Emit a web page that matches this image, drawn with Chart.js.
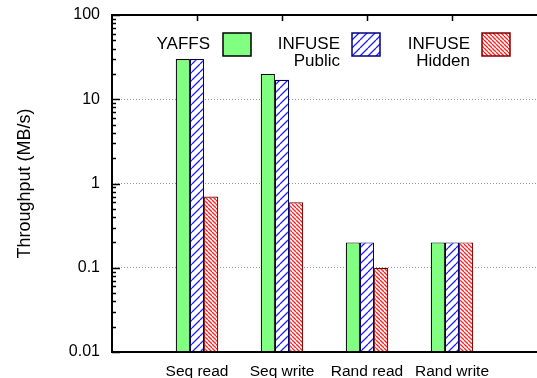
<!DOCTYPE html>
<html>
<head>
<meta charset="utf-8">
<script src="https://cdn.jsdelivr.net/npm/chart.js@4.4.0/dist/chart.umd.min.js"></script>
<style>
  html, body { margin: 0; padding: 0; background: #fff; overflow: hidden; }
  canvas { display: block; }
</style>
</head>
<body>
<canvas id="chart" width="537" height="378"></canvas>
<script>
var categories = ['', 'Seq read', 'Seq write', 'Rand read', 'Rand write', ''];
var yaffs = [null, 30, 20, 0.2, 0.2, null];
var infusePublic = [null, 30, 17, 0.2, 0.2, null];
var infuseHidden = [null, 0.7, 0.6, 0.1, 0.2, null];
var yTicks = [0.01, 0.1, 1, 10, 100];

var FONT = '"Liberation Sans", Arial, sans-serif';

function makeHatch(size, color, dir, width) {
    var c = document.createElement('canvas');
    c.width = size; c.height = size;
    var g = c.getContext('2d');
    g.fillStyle = '#fff';
    g.fillRect(0, 0, size, size);
    g.strokeStyle = color;
    g.lineWidth = width;
    g.beginPath();
    for (var k = -1; k <= 1; k++) {
        if (dir > 0) {
            g.moveTo(k * size, size);
            g.lineTo(k * size + size, 0);
        } else {
            g.moveTo(k * size, 0);
            g.lineTo(k * size + size, size);
        }
    }
    g.stroke();
    return g.createPattern(c, 'repeat');
}

var blueHatch = makeHatch(8, '#2020ff', 1, 1.3);
var redHatch = makeHatch(4, '#ff2020', -1, 1.3);

var legendItems = [
    { lines: ['YAFFS'], x: 210, box: 223, fill: 'rgb(128,255,128)', stroke: '#000' },
    { lines: ['INFUSE', 'Public'], x: 340, box: 352, fill: blueHatch, stroke: '#000080' },
    { lines: ['INFUSE', 'Hidden'], x: 470, box: 482, fill: redHatch, stroke: '#800000' }
];

var framePlugin = {
    id: 'frame',
    afterDatasetsDraw: function(chart) {
        var ctx = chart.ctx;
        var y = chart.scales.y;
        var x = chart.scales.x;
        var left = x.left, right = x.right, top = y.top, bottom = y.bottom;
        ctx.save();
        ctx.strokeStyle = '#000';
        ctx.lineWidth = 1.5;
        ctx.beginPath();
        // minor + major ticks on left axis
        for (var d = 0.01; d < 100; d *= 10) {
            for (var k = 1; k <= 10; k++) {
                var v = d * k;
                var py = Math.round(y.getPixelForValue(v)) + 0.5;
                var len = (k === 1 || k === 10) ? 8 : 4;
                ctx.moveTo(left, py);
                ctx.lineTo(left + len, py);
            }
        }
        // category ticks on top
        for (var i = 1; i < categories.length - 1; i++) {
            var px = Math.round(x.getPixelForValue(i)) + 0.5;
            ctx.moveTo(px, top);
            ctx.lineTo(px, top + 6);
        }
        ctx.stroke();
        ctx.lineWidth = 2;
        ctx.strokeRect(left, top, right - left + 2, bottom - top);
        ctx.restore();
    },
    afterDraw: function(chart) {
        var ctx = chart.ctx;
        ctx.save();
        ctx.font = '17px ' + FONT;
        ctx.fillStyle = '#000';
        ctx.textAlign = 'right';
        ctx.textBaseline = 'middle';
        legendItems.forEach(function(it) {
            it.lines.forEach(function(t, j) {
                ctx.fillText(t, it.x, 44 + j * 17);
            });
            ctx.fillStyle = it.fill;
            ctx.fillRect(it.box, 33, 28, 23);
            ctx.strokeStyle = it.stroke;
            ctx.lineWidth = 1.5;
            ctx.strokeRect(it.box, 33, 28, 23);
            ctx.fillStyle = '#000';
        });
        ctx.restore();
    }
};

var chart = new Chart(document.getElementById('chart'), {
    type: 'bar',
    data: {
        labels: categories,
        datasets: [{
            label: 'YAFFS',
            data: yaffs,
            backgroundColor: 'rgb(128,255,128)',
            borderColor: '#000',
            borderWidth: 1.2
        }, {
            label: 'INFUSE Public',
            data: infusePublic,
            backgroundColor: blueHatch,
            borderColor: '#000060',
            borderWidth: 1.2
        }, {
            label: 'INFUSE Hidden',
            data: infuseHidden,
            backgroundColor: redHatch,
            borderColor: '#700000',
            borderWidth: 1.2
        }]
    },
    options: {
        responsive: false,
        animation: false,
        layout: { autoPadding: false, padding: { top: 15, right: 0, left: 0, bottom: 0 } },
        plugins: {
            legend: { display: false },
            tooltip: { enabled: false }
        },
        datasets: {
            bar: { barPercentage: 1, categoryPercentage: 0.5, base: 0.01 }
        },
        scales: {
            x: {
                offset: false,
                grid: { display: false, drawTicks: false },
                border: { display: false },
                ticks: {
                    color: '#000',
                    font: { size: 15.5, family: FONT },
                    padding: 10,
                    maxRotation: 0,
                    autoSkip: false
                },
                afterFit: function(s) {
                    s.height = 26;
                    s.paddingLeft = 0;
                    s.paddingRight = 0;
                }
            },
            y: {
                type: 'logarithmic',
                min: 0.01,
                max: 100,
                afterBuildTicks: function(s) {
                    s.ticks = yTicks.map(function(v) { return { value: v }; });
                },
                afterFit: function(s) {
                    s.width = 112;
                    s.paddingTop = 0;
                    s.paddingBottom = 0;
                },
                grid: { color: '#999', lineWidth: 1, drawTicks: false },
                border: { display: false, dash: [1, 2] },
                ticks: {
                    color: '#000',
                    font: { size: 16, family: FONT },
                    padding: 12,
                    callback: function(v) { return String(v); }
                },
                title: {
                    display: true,
                    text: 'Throughput (MB/s)',
                    color: '#000',
                    font: { size: 18, family: FONT },
                    padding: { top: 14, bottom: 0 }
                }
            }
        }
    },
    plugins: [framePlugin]
});
</script>
</body>
</html>
